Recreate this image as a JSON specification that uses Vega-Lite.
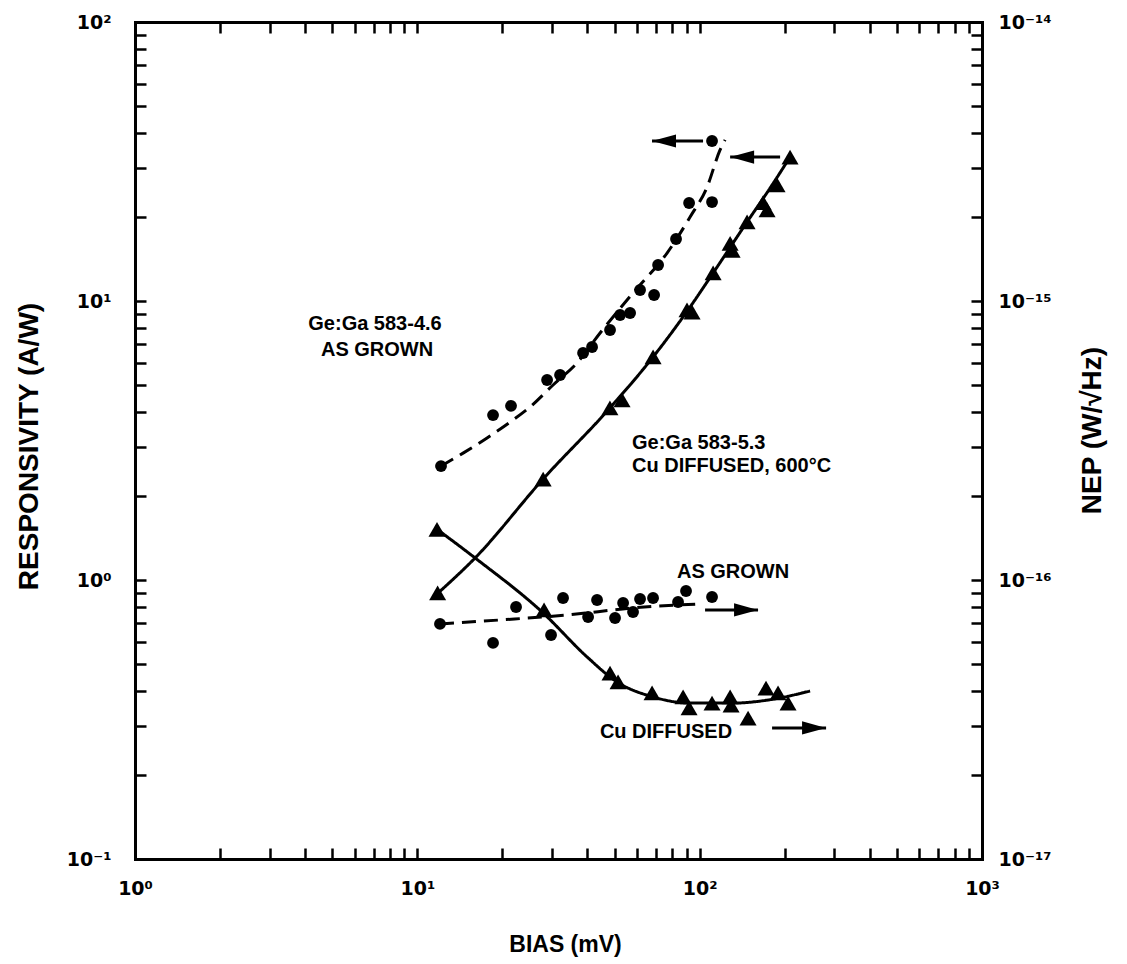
{
  "$schema": "https://vega.github.io/schema/vega-lite/v6.json",
  "width": 847,
  "height": 837,
  "autosize": {"type": "none"},
  "padding": {"left": 135, "top": 22, "right": 145, "bottom": 105},
  "background": "white",
  "config": {
    "view": {"stroke": null},
    "font": "Liberation Sans",
    "axis": {
      "domainColor": "black", "domainWidth": 3, "domainCap": "square",
      "tickColor": "black", "tickWidth": 2.5, "tickSize": -11,
      "grid": false,
      "labelFont": "DejaVu Sans", "labelFontWeight": "bold", "labelFontSize": 19, "labelColor": "black",
      "titleFont": "Liberation Sans", "titleFontWeight": "bold", "titleColor": "black",
      "labelOverlap": false, "labelFlush": false, "labelBound": false
    }
  },
  "datasets": {
    "respPoints": [
      {"sample": "as grown", "bias": 12.13, "resp": 2.56},
      {"sample": "as grown", "bias": 18.54, "resp": 3.90},
      {"sample": "as grown", "bias": 21.47, "resp": 4.21},
      {"sample": "as grown", "bias": 28.81, "resp": 5.21},
      {"sample": "as grown", "bias": 32.03, "resp": 5.43},
      {"sample": "as grown", "bias": 38.64, "resp": 6.51},
      {"sample": "as grown", "bias": 41.58, "resp": 6.84},
      {"sample": "as grown", "bias": 48.14, "resp": 7.87},
      {"sample": "as grown", "bias": 52.24, "resp": 8.91},
      {"sample": "as grown", "bias": 56.69, "resp": 9.06},
      {"sample": "as grown", "bias": 61.5, "resp": 10.95},
      {"sample": "as grown", "bias": 68.95, "resp": 10.51},
      {"sample": "as grown", "bias": 71.24, "resp": 13.46},
      {"sample": "as grown", "bias": 82.48, "resp": 16.68},
      {"sample": "as grown", "bias": 91.73, "resp": 22.45},
      {"sample": "as grown", "bias": 110.6, "resp": 22.63},
      {"sample": "as grown", "bias": 110.6, "resp": 37.45},
      {"sample": "Cu diffused", "bias": 11.8, "resp": 0.90},
      {"sample": "Cu diffused", "bias": 27.9, "resp": 2.30},
      {"sample": "Cu diffused", "bias": 48.1, "resp": 4.14},
      {"sample": "Cu diffused", "bias": 53.1, "resp": 4.42},
      {"sample": "Cu diffused", "bias": 68.4, "resp": 6.30},
      {"sample": "Cu diffused", "bias": 90.2, "resp": 9.29},
      {"sample": "Cu diffused", "bias": 94.0, "resp": 9.13},
      {"sample": "Cu diffused", "bias": 111.6, "resp": 12.6},
      {"sample": "Cu diffused", "bias": 128.2, "resp": 16.1},
      {"sample": "Cu diffused", "bias": 130.3, "resp": 15.2},
      {"sample": "Cu diffused", "bias": 147.2, "resp": 19.2},
      {"sample": "Cu diffused", "bias": 167.7, "resp": 22.5},
      {"sample": "Cu diffused", "bias": 173.3, "resp": 21.2},
      {"sample": "Cu diffused", "bias": 188.0, "resp": 26.1},
      {"sample": "Cu diffused", "bias": 209.0, "resp": 32.8}
    ],
    "respFit": [
      {"sample": "as grown", "bias": 12.13, "resp": 2.56},
      {"sample": "as grown", "bias": 14.52, "resp": 2.85},
      {"sample": "as grown", "bias": 17.66, "resp": 3.23},
      {"sample": "as grown", "bias": 21.3, "resp": 3.68},
      {"sample": "as grown", "bias": 25.07, "resp": 4.17},
      {"sample": "as grown", "bias": 30.25, "resp": 5.0},
      {"sample": "as grown", "bias": 36.79, "resp": 6.0},
      {"sample": "as grown", "bias": 44.39, "resp": 7.68},
      {"sample": "as grown", "bias": 58.07, "resp": 10.69},
      {"sample": "as grown", "bias": 76.65, "resp": 14.86},
      {"sample": "as grown", "bias": 92.48, "resp": 20.0},
      {"sample": "as grown", "bias": 106.2, "resp": 25.6},
      {"sample": "as grown", "bias": 118.1, "resp": 34.8},
      {"sample": "as grown", "bias": 123.0, "resp": 37.8},
      {"sample": "Cu diffused", "bias": 11.84, "resp": 0.898},
      {"sample": "Cu diffused", "bias": 16.01, "resp": 1.199},
      {"sample": "Cu diffused", "bias": 27.88, "resp": 2.30},
      {"sample": "Cu diffused", "bias": 48.14, "resp": 4.14},
      {"sample": "Cu diffused", "bias": 68.38, "resp": 6.30},
      {"sample": "Cu diffused", "bias": 90.96, "resp": 9.29},
      {"sample": "Cu diffused", "bias": 111.6, "resp": 12.6},
      {"sample": "Cu diffused", "bias": 147.2, "resp": 19.2},
      {"sample": "Cu diffused", "bias": 177.6, "resp": 25.4},
      {"sample": "Cu diffused", "bias": 209.0, "resp": 32.8}
    ],
    "nepPoints": [
      {"sample": "as grown", "bias": 12.03, "nep": 6.96e-17},
      {"sample": "as grown", "bias": 18.54, "nep": 5.95e-17},
      {"sample": "as grown", "bias": 22.37, "nep": 8.0e-17},
      {"sample": "as grown", "bias": 29.76, "nep": 6.35e-17},
      {"sample": "as grown", "bias": 32.82, "nep": 8.62e-17},
      {"sample": "as grown", "bias": 40.25, "nep": 7.37e-17},
      {"sample": "as grown", "bias": 43.31, "nep": 8.48e-17},
      {"sample": "as grown", "bias": 50.15, "nep": 7.31e-17},
      {"sample": "as grown", "bias": 53.55, "nep": 8.27e-17},
      {"sample": "as grown", "bias": 58.07, "nep": 7.68e-17},
      {"sample": "as grown", "bias": 61.5, "nep": 8.55e-17},
      {"sample": "as grown", "bias": 68.38, "nep": 8.62e-17},
      {"sample": "as grown", "bias": 83.84, "nep": 8.34e-17},
      {"sample": "as grown", "bias": 89.48, "nep": 9.13e-17},
      {"sample": "as grown", "bias": 110.6, "nep": 8.69e-17},
      {"sample": "Cu diffused", "bias": 11.74, "nep": 1.52e-16},
      {"sample": "Cu diffused", "bias": 28.11, "nep": 7.81e-17},
      {"sample": "Cu diffused", "bias": 48.14, "nep": 4.64e-17},
      {"sample": "Cu diffused", "bias": 51.4, "nep": 4.31e-17},
      {"sample": "Cu diffused", "bias": 67.83, "nep": 3.94e-17},
      {"sample": "Cu diffused", "bias": 87.36, "nep": 3.81e-17},
      {"sample": "Cu diffused", "bias": 91.73, "nep": 3.48e-17},
      {"sample": "Cu diffused", "bias": 110.6, "nep": 3.62e-17},
      {"sample": "Cu diffused", "bias": 128.2, "nep": 3.81e-17},
      {"sample": "Cu diffused", "bias": 129.2, "nep": 3.56e-17},
      {"sample": "Cu diffused", "bias": 148.4, "nep": 3.2e-17},
      {"sample": "Cu diffused", "bias": 171.8, "nep": 4.1e-17},
      {"sample": "Cu diffused", "bias": 189.5, "nep": 3.94e-17},
      {"sample": "Cu diffused", "bias": 205.6, "nep": 3.62e-17}
    ],
    "nepFit": [
      {"sample": "as grown", "bias": 12.03, "nep": 6.96e-17},
      {"sample": "as grown", "bias": 19.63, "nep": 7.19e-17},
      {"sample": "as grown", "bias": 33.91, "nep": 7.49e-17},
      {"sample": "as grown", "bias": 58.07, "nep": 7.94e-17},
      {"sample": "as grown", "bias": 97.9, "nep": 8.2e-17},
      {"sample": "Cu diffused", "bias": 11.74, "nep": 1.52e-16},
      {"sample": "Cu diffused", "bias": 16.01, "nep": 1.2e-16},
      {"sample": "Cu diffused", "bias": 27.88, "nep": 7.62e-17},
      {"sample": "Cu diffused", "bias": 39.92, "nep": 5.3e-17},
      {"sample": "Cu diffused", "bias": 50.98, "nep": 4.31e-17},
      {"sample": "Cu diffused", "bias": 68.38, "nep": 3.81e-17},
      {"sample": "Cu diffused", "bias": 92.48, "nep": 3.62e-17},
      {"sample": "Cu diffused", "bias": 131.3, "nep": 3.62e-17},
      {"sample": "Cu diffused", "bias": 173.3, "nep": 3.71e-17},
      {"sample": "Cu diffused", "bias": 246.1, "nep": 4.0e-17}
    ],
    "respArrows": [
      {"bias": 67.8, "bias_tail": 102.8, "resp": 37.45},
      {"bias": 128.2, "bias_tail": 192.7, "resp": 32.8}
    ],
    "nepArrows": [
      {"bias": 161.0, "bias_tail": 104.5, "nep": 7.81e-17},
      {"bias": 280.4, "bias_tail": 180.5, "nep": 2.95e-17}
    ],
    "respLabelsCenter": [
      {"label": "Ge:Ga 583-4.6", "bias": 7.08, "resp": 8.27},
      {"label": "AS GROWN", "bias": 7.2, "resp": 6.67}
    ],
    "respLabelsLeft": [
      {"label": "Ge:Ga 583-5.3", "bias": 57.6, "resp": 3.10},
      {"label": "Cu DIFFUSED, 600°C", "bias": 57.6, "resp": 2.56}
    ],
    "nepLabels": [
      {"label": "AS GROWN", "bias": 131.3, "nep": 1.068e-16},
      {"label": "Cu DIFFUSED", "bias": 76.0, "nep": 2.85e-17}
    ]
  },
  "resolve": {
    "scale": {"y": "independent"},
    "axis": {"x": "independent", "y": "independent"}
  },
  "layer": [
    {
      "encoding": {
        "x": {
          "field": "bias", "type": "quantitative",
          "scale": {"type": "log", "domain": [1, 1000], "nice": false},
          "axis": {
            "orient": "bottom",
            "values": [1,2,3,4,5,6,7,8,9,10,20,30,40,50,60,70,80,90,100,200,300,400,500,600,700,800,900,1000],
            "labelExpr": "datum.value == 1 ? '10⁰' : datum.value == 10 ? '10¹' : datum.value == 100 ? '10²' : datum.value == 1000 ? '10³' : ''",
            "labelPadding": 31,
            "title": "BIAS (mV)", "titleFontSize": 23,
            "titleX": 430, "titleY": 85, "titleAlign": "center", "titleBaseline": "middle", "titleAngle": 0
          }
        },
        "y": {
          "field": "resp", "type": "quantitative",
          "scale": {"type": "log", "domain": [0.1, 100], "nice": false},
          "axis": {
            "orient": "left",
            "values": [0.1,0.2,0.3,0.4,0.5,0.6,0.7,0.8,0.9,1,2,3,4,5,6,7,8,9,10,20,30,40,50,60,70,80,90,100],
            "labelExpr": "datum.value == 0.1 ? '10⁻¹' : datum.value == 1 ? '10⁰' : datum.value == 10 ? '10¹' : datum.value == 100 ? '10²' : ''",
            "labelPadding": 35,
            "title": "RESPONSIVITY (A/W)", "titleFontSize": 28,
            "titleX": -106, "titleY": 424, "titleAlign": "center", "titleBaseline": "middle", "titleAngle": -90
          }
        }
      },
      "layer": [
        {
          "data": {"name": "respFit"},
          "mark": {"type": "line", "color": "black", "strokeWidth": 3, "interpolate": "monotone"},
          "encoding": {
            "detail": {"field": "sample", "type": "nominal"},
            "strokeDash": {"field": "sample", "type": "nominal", "scale": {"domain": ["as grown", "Cu diffused"], "range": [[14, 8], [1, 0]]}, "legend": null}
          }
        },
        {
          "data": {"name": "respPoints"},
          "mark": {"type": "point", "filled": true, "color": "black", "opacity": 1},
          "encoding": {
            "shape": {"field": "sample", "type": "nominal", "scale": {"domain": ["as grown", "Cu diffused"], "range": ["circle", "triangle-up"]}, "legend": null},
            "size": {"field": "sample", "type": "nominal", "scale": {"domain": ["as grown", "Cu diffused"], "range": [140, 290]}, "legend": null}
          }
        },
        {
          "data": {"name": "respArrows"},
          "mark": {"type": "rule", "color": "black", "strokeWidth": 3},
          "encoding": {"x2": {"field": "bias_tail"}}
        },
        {
          "data": {"name": "respArrows"},
          "mark": {"type": "point", "filled": true, "color": "black", "opacity": 1, "size": 576, "shape": "M0,0L2,-0.55L2,0.55Z"}
        },
        {
          "data": {"name": "respLabelsCenter"},
          "mark": {"type": "text", "font": "Liberation Sans", "fontWeight": "bold", "fontSize": 20, "align": "center", "baseline": "middle", "color": "black"},
          "encoding": {"text": {"field": "label"}}
        },
        {
          "data": {"name": "respLabelsLeft"},
          "mark": {"type": "text", "font": "Liberation Sans", "fontWeight": "bold", "fontSize": 20, "align": "left", "baseline": "middle", "color": "black"},
          "encoding": {"text": {"field": "label"}}
        }
      ]
    },
    {
      "encoding": {
        "x": {
          "field": "bias", "type": "quantitative",
          "scale": {"type": "log", "domain": [1, 1000], "nice": false},
          "axis": {
            "orient": "top",
            "values": [1,2,3,4,5,6,7,8,9,10,20,30,40,50,60,70,80,90,100,200,300,400,500,600,700,800,900,1000],
            "labels": false, "title": null
          }
        },
        "y": {
          "field": "nep", "type": "quantitative",
          "scale": {"type": "log", "domain": [1e-17, 1e-14], "nice": false},
          "axis": {
            "orient": "right",
            "values": [1e-17,2e-17,3e-17,4e-17,5e-17,6e-17,7e-17,8e-17,9e-17,1e-16,2e-16,3e-16,4e-16,5e-16,6e-16,7e-16,8e-16,9e-16,1e-15,2e-15,3e-15,4e-15,5e-15,6e-15,7e-15,8e-15,9e-15,1e-14],
            "labelExpr": "datum.value == 1e-17 ? '10⁻¹⁷' : datum.value == 1e-16 ? '10⁻¹⁶' : datum.value == 1e-15 ? '10⁻¹⁵' : datum.value == 1e-14 ? '10⁻¹⁴' : ''",
            "labelPadding": 27,
            "title": "NEP (W/√Hz)", "titleFontSize": 28,
            "titleX": 110, "titleY": 408, "titleAlign": "center", "titleBaseline": "middle", "titleAngle": -90
          }
        }
      },
      "layer": [
        {
          "data": {"name": "nepFit"},
          "mark": {"type": "line", "color": "black", "strokeWidth": 3, "interpolate": "monotone"},
          "encoding": {
            "detail": {"field": "sample", "type": "nominal"},
            "strokeDash": {"field": "sample", "type": "nominal", "scale": {"domain": ["as grown", "Cu diffused"], "range": [[14, 8], [1, 0]]}, "legend": null}
          }
        },
        {
          "data": {"name": "nepPoints"},
          "mark": {"type": "point", "filled": true, "color": "black", "opacity": 1},
          "encoding": {
            "shape": {"field": "sample", "type": "nominal", "scale": {"domain": ["as grown", "Cu diffused"], "range": ["circle", "triangle-up"]}, "legend": null},
            "size": {"field": "sample", "type": "nominal", "scale": {"domain": ["as grown", "Cu diffused"], "range": [140, 290]}, "legend": null}
          }
        },
        {
          "data": {"name": "nepArrows"},
          "mark": {"type": "rule", "color": "black", "strokeWidth": 3},
          "encoding": {"x2": {"field": "bias_tail"}}
        },
        {
          "data": {"name": "nepArrows"},
          "mark": {"type": "point", "filled": true, "color": "black", "opacity": 1, "size": 576, "shape": "M0,0L-2,-0.55L-2,0.55Z"}
        },
        {
          "data": {"name": "nepLabels"},
          "mark": {"type": "text", "font": "Liberation Sans", "fontWeight": "bold", "fontSize": 20, "align": "center", "baseline": "middle", "color": "black"},
          "encoding": {"text": {"field": "label"}}
        }
      ]
    }
  ]
}
